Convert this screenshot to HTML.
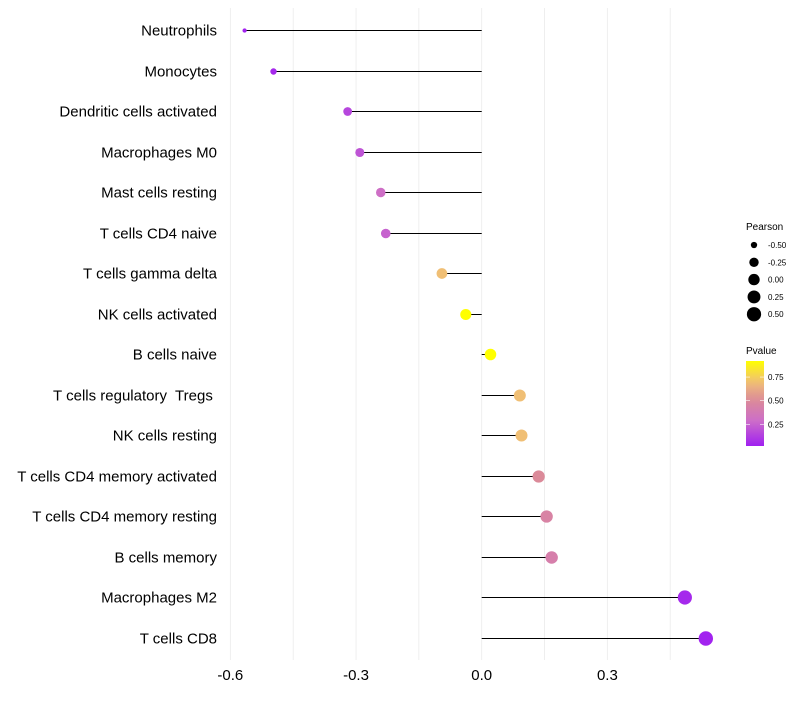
<!DOCTYPE html>
<html><head><meta charset="utf-8"><style>
body{margin:0;background:#fff;font-family:"Liberation Sans",sans-serif}
text{white-space:pre}
</style></head><body>
<svg id="chart" width="800" height="700" xmlns="http://www.w3.org/2000/svg"></svg>
<script>
const cells=["Neutrophils","Monocytes","Dendritic cells activated","Macrophages M0","Mast cells resting","T cells CD4 naive","T cells gamma delta","NK cells activated","B cells naive","T cells regulatory  Tregs ","NK cells resting","T cells CD4 memory activated","T cells CD4 memory resting","B cells memory","Macrophages M2","T cells CD8"];
const pearson=[-0.566,-0.497,-0.32,-0.291,-0.241,-0.229,-0.095,-0.038,0.021,0.091,0.095,0.136,0.155,0.167,0.485,0.535];
const pvalue=[0.03,0.05,0.15,0.2,0.3,0.25,0.7,0.92,0.95,0.7,0.7,0.5,0.45,0.42,0.05,0.03];
const xTicks=[-0.6,-0.3,0.0,0.3];
const xTickLabels=["-0.6","-0.3","0.0","0.3"];
const sizeLegend=[-0.5,-0.25,0,0.25,0.5];
const colorTicks=[0.25,0.5,0.75];

const NS="http://www.w3.org/2000/svg";
const svg=document.getElementById('chart');
function mk(t,a,p){const e=document.createElementNS(NS,t);for(const k in a)e.setAttribute(k,a[k]);(p||svg).appendChild(e);return e;}
const xS=v=>481.7+v*418.9;
const yS=i=>Math.round(30+i*40.5)+0.5;
const rS=v=>1.8+5.4*Math.sqrt(Math.max(0,(v+0.57)/1.1));
function lerp(a,b,t){return a.map((x,i)=>Math.round(x+(b[i]-x)*t));}
const stops=[[0,[160,32,240]],[0.3,[205,110,200]],[0.55,[220,140,150]],[0.75,[240,190,120]],[1,[255,255,0]]];
function cS(p){const t=Math.max(0,Math.min(1,(p-0.02)/0.9));for(let i=1;i<stops.length;i++){if(t<=stops[i][0]){const [a,ca]=stops[i-1],[b,cb]=stops[i];return 'rgb('+lerp(ca,cb,(t-a)/(b-a)).join(',')+')';}}return 'rgb(255,255,0)';}

const grid=mk('g',{});
[-0.6,-0.45,-0.3,-0.15,0,0.15,0.3,0.45].forEach(v=>{
  const l=mk('line',{x1:xS(v),x2:xS(v),y1:8,y2:660,stroke:'#ebebeb','stroke-width':0.8},grid);
  
  
});
const xa=mk('g',{});
xTicks.forEach((v,i)=>{
  const t=mk('text',{x:xS(v),y:680,'text-anchor':'middle','font-size':15,fill:'#000'},xa);
  t.textContent=xTickLabels[i];
  
  
});
cells.forEach((c,i)=>{
  const g=mk('g',{});
  
  
  const lb=mk('text',{x:217,y:yS(i)+5,'text-anchor':'end','font-size':15,fill:'#000'},g);
  lb.textContent=c;
  
  
  const ln=mk('line',{x1:xS(0),x2:xS(pearson[i]),y1:yS(i),y2:yS(i),stroke:'#000','stroke-width':1},g);
  
  
  const pt=mk('circle',{cx:xS(pearson[i]),cy:yS(i),r:rS(pearson[i]),fill:cS(pvalue[i])},g);
  
  
});
const sl=mk('g',{});
const st=mk('text',{x:746,y:230,'font-size':10},sl);st.textContent='Pearson';
sizeLegend.forEach((v,i)=>{
  const y=245+i*17.3;
  const c=mk('circle',{cx:754,cy:y,r:rS(v),fill:'#000'},sl);
  
  
  const t=mk('text',{x:768,y:y+3,'font-size':8},sl);t.textContent=v.toFixed(2);
  
  
});
const cl=mk('g',{});
const ct=mk('text',{x:746,y:354,'font-size':10},cl);ct.textContent='Pvalue';
const defs=mk('defs',{});
const lg=mk('linearGradient',{id:'pg',x1:0,y1:1,x2:0,y2:0},defs);
for(let k=0;k<=10;k++){const p=0.02+k*0.09;mk('stop',{offset:k/10,'stop-color':cS(p)},lg);}
const cb=mk('rect',{x:746,y:361,width:18,height:85,fill:'url(#pg)'},cl);


colorTicks.forEach(v=>{
  const y=446-(v-0.02)/0.9*85;
  mk('line',{x1:746,x2:750,y1:y,y2:y,stroke:'#fff','stroke-width':0.6},cl);
  mk('line',{x1:760,x2:764,y1:y,y2:y,stroke:'#fff','stroke-width':0.6},cl);
  const t=mk('text',{x:768,y:y+3,'font-size':8},cl);t.textContent=v.toFixed(2);
  
  
});
</script>
</body></html>
